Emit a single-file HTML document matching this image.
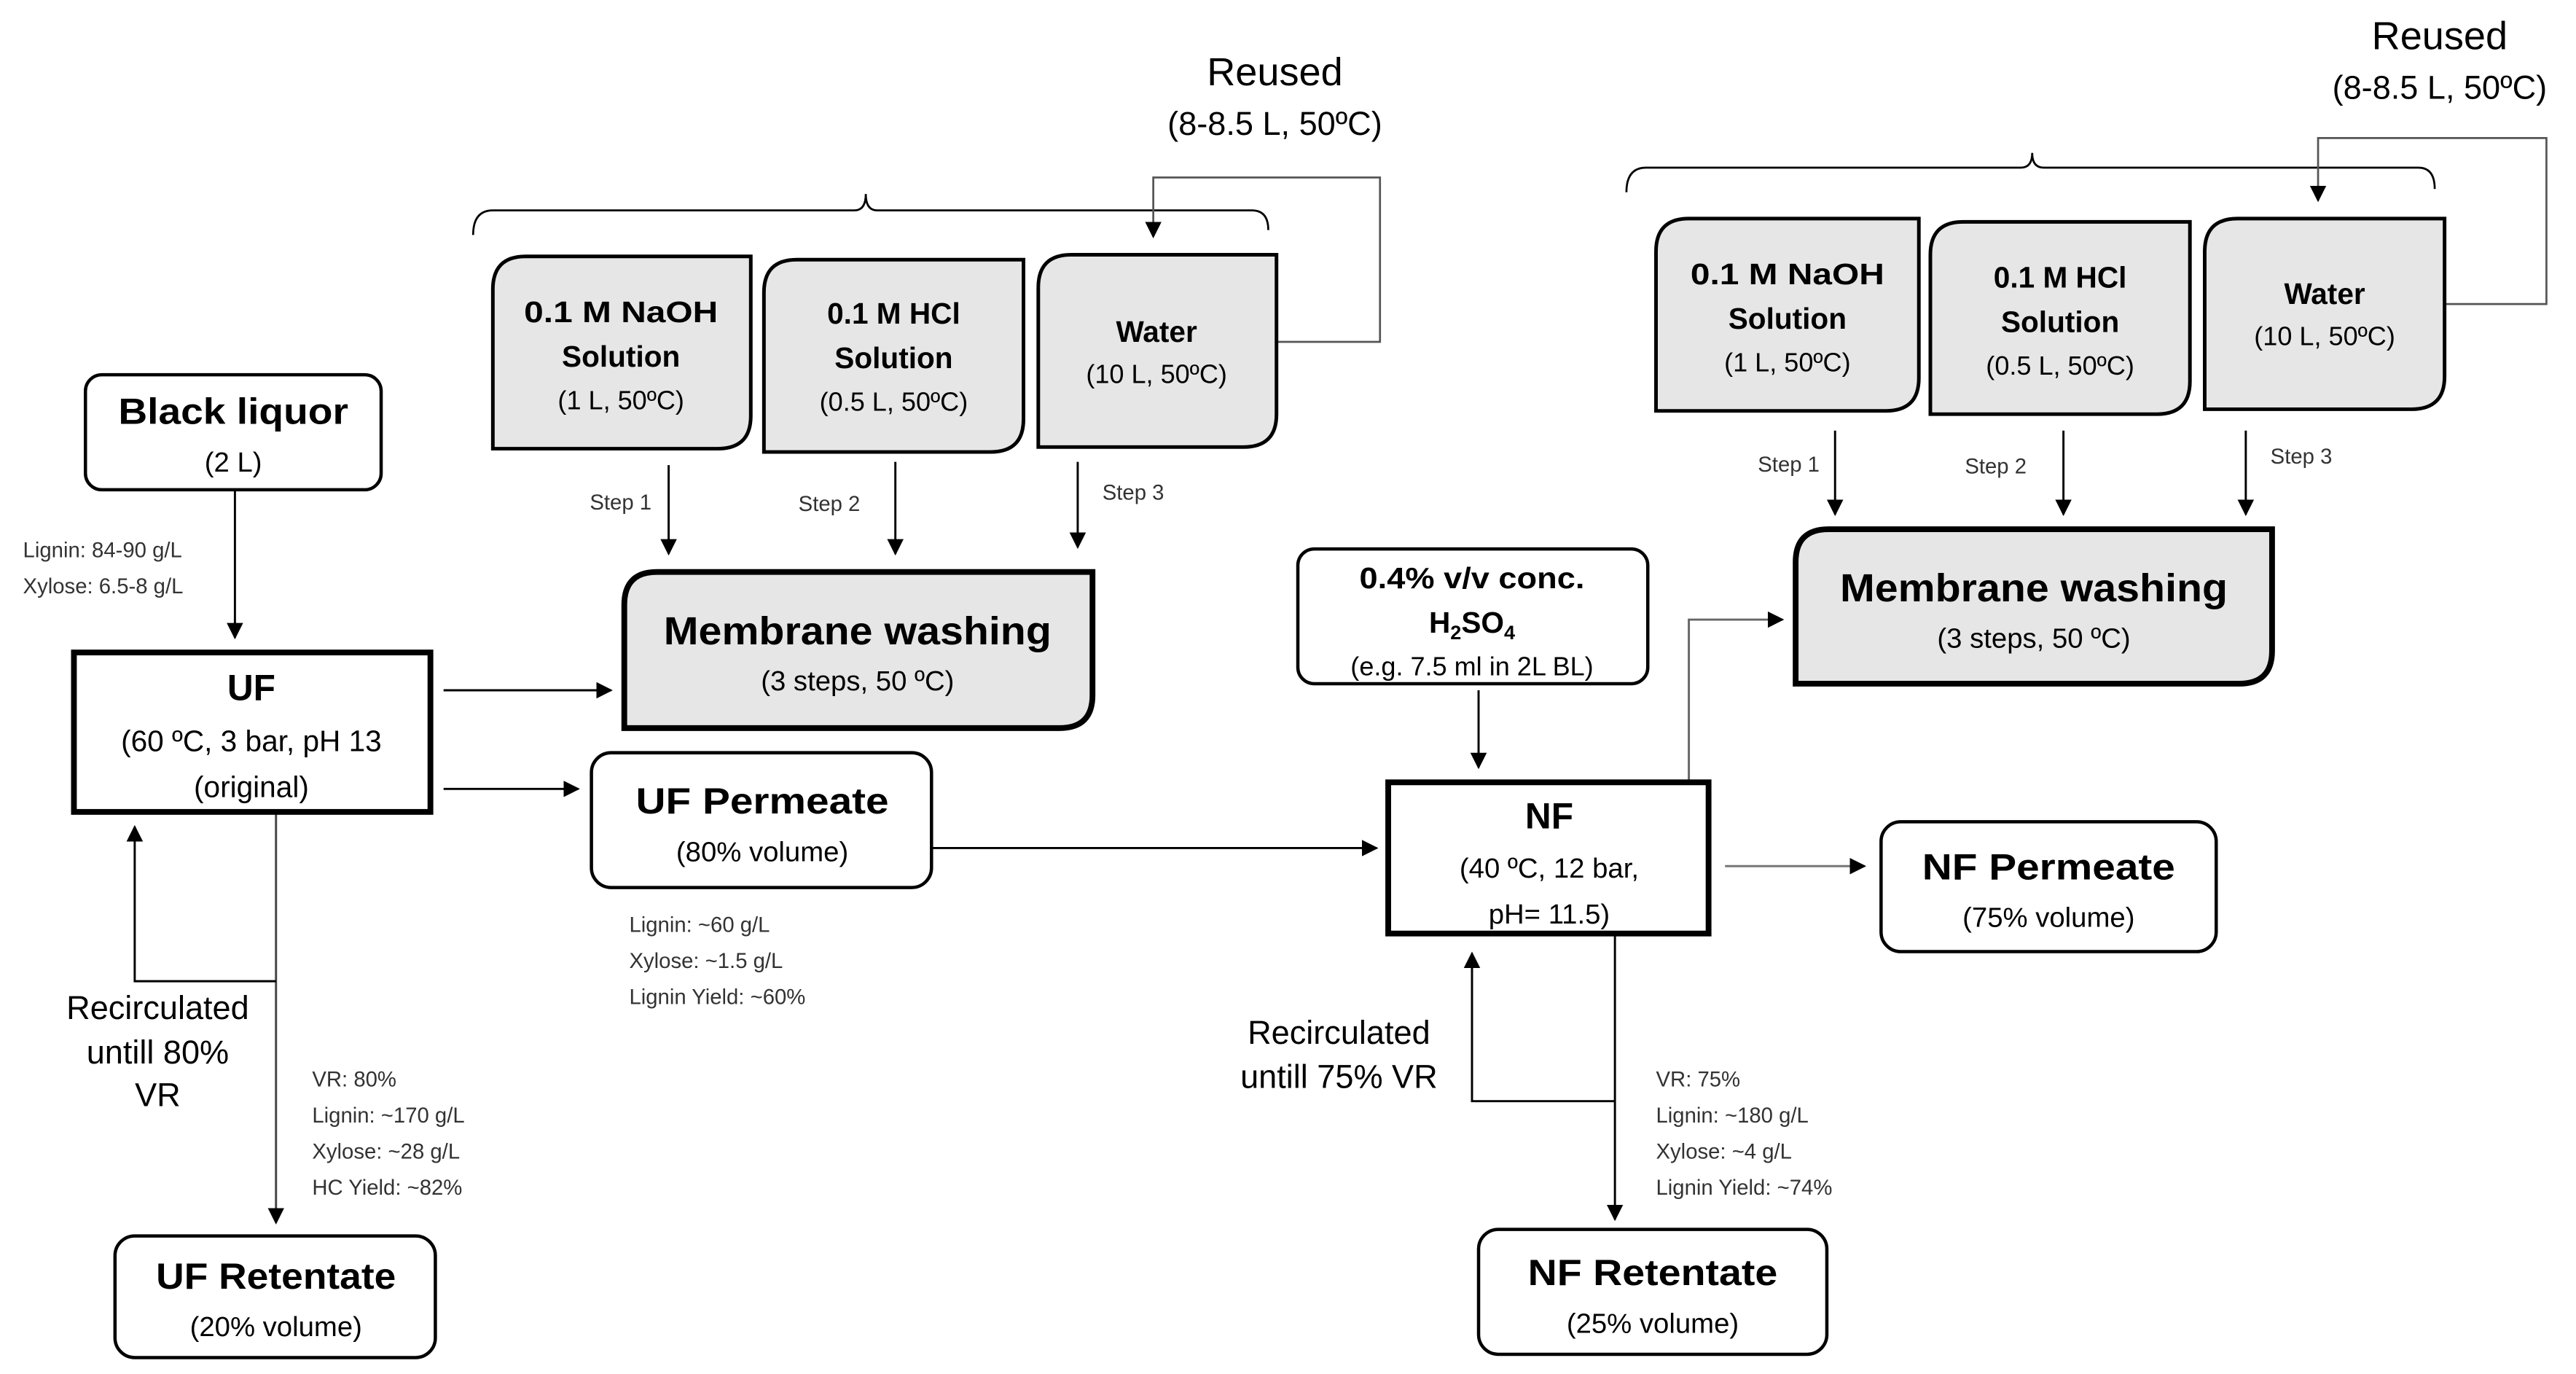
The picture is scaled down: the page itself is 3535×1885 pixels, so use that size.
<!DOCTYPE html>
<html><head><meta charset="utf-8"><style>html,body{margin:0;padding:0;background:#fff}svg{display:block}</style></head>
<body>
<svg width="3535" height="1885" viewBox="0 0 1568 836" preserveAspectRatio="none" xmlns="http://www.w3.org/2000/svg" font-family="Liberation Sans, sans-serif">
<defs>
<marker id="a" markerWidth="10" markerHeight="10" refX="9" refY="5" orient="auto" markerUnits="userSpaceOnUse"><path d="M0,0 L10,5 L0,10 z" fill="#000"/></marker>
</defs>
<g fill="none" stroke="#000" stroke-width="1.2">
<!-- braces -->
<path d="M288,143 Q288,128 300,128 L520,128 Q527,128 527,118 Q527,128 534,128 L762,128 Q772,128 772,140"/>
<path d="M990,117 Q990,102 1002,102 L1230,102 Q1237,102 1237,93 Q1237,102 1244,102 L1472,102 Q1482,102 1482,115"/>
</g>
<g fill="none" stroke="#555" stroke-width="1.2">
<path d="M777,208 H840 V108 H702 V144" marker-end="url(#a)"/>
<path d="M1488,185 H1550 V84 H1411 V122" marker-end="url(#a)"/>
</g>
<g fill="none" stroke="#000" stroke-width="1.3">
<path d="M143,298 V388" marker-end="url(#a)"/>
<path d="M270,420 H372" marker-end="url(#a)"/>
<path d="M270,480 H352" marker-end="url(#a)"/>
<path d="M567,516 H838" marker-end="url(#a)"/>
<path d="M407,283 V337" marker-end="url(#a)"/>
<path d="M545,281 V337" marker-end="url(#a)"/>
<path d="M656,281 V333" marker-end="url(#a)"/>
<path d="M1117,262 V313" marker-end="url(#a)"/>
<path d="M1256,262 V313" marker-end="url(#a)"/>
<path d="M1367,262 V313" marker-end="url(#a)"/>
<path d="M900,420 V467" marker-end="url(#a)"/>
<path d="M168,494 V744" stroke="#444" marker-end="url(#a)"/>
<path d="M168,597 H82 V503" marker-end="url(#a)"/>
<path d="M983,568 V742" marker-end="url(#a)"/>
<path d="M983,670 H896 V580" marker-end="url(#a)"/>
<path d="M1028,476 V377 H1085" stroke="#666" marker-end="url(#a)"/>
<path d="M1050,527 H1135" stroke="#777" marker-end="url(#a)"/>
</g>
<!-- white rounded boxes -->
<g fill="#fff" stroke="#000" stroke-width="2">
<rect x="52" y="228" width="180" height="70" rx="10"/>
<rect x="360" y="458" width="207" height="82" rx="12"/>
<rect x="70" y="752" width="195" height="74" rx="12"/>
<rect x="790" y="334" width="213" height="82" rx="10"/>
<rect x="1145" y="500" width="204" height="79" rx="12"/>
<rect x="900" y="748" width="212" height="76" rx="12"/>
</g>
<g fill="#fff" stroke="#000" stroke-width="3.5">
<rect x="45" y="397" width="217" height="97"/>
<rect x="845" y="476" width="195" height="92"/>
</g>
<!-- gray boxes: rounded TL & BR -->
<g fill="#e6e6e6" stroke="#000" stroke-width="2.2">
<path d="M320,156 H457 V253 Q457,273 437,273 H300 V176 Q300,156 320,156 z"/>
<path d="M485,158 H623 V255 Q623,275 603,275 H465 V178 Q465,158 485,158 z"/>
<path d="M652,155 H777 V252 Q777,272 757,272 H632 V175 Q632,155 652,155 z"/>
<path d="M1028,133 H1168 V230 Q1168,250 1148,250 H1008 V153 Q1008,133 1028,133 z"/>
<path d="M1195,135 H1333 V232 Q1333,252 1313,252 H1175 V155 Q1175,135 1195,135 z"/>
<path d="M1362,133 H1488 V229 Q1488,249 1468,249 H1342 V153 Q1342,133 1362,133 z"/>
</g>
<g fill="#e6e6e6" stroke="#000" stroke-width="3.5">
<path d="M400,348 H665 V423 Q665,443 645,443 H380 V368 Q380,348 400,348 z"/>
<path d="M1113,322 H1383 V396 Q1383,416 1363,416 H1093 V342 Q1093,322 1113,322 z"/>
</g>
<!-- text -->
<g text-anchor="middle" fill="#000">
<g font-weight="bold">
<text x="142" y="258" font-size="22" textLength="140" lengthAdjust="spacingAndGlyphs">Black liquor</text>
<text x="153" y="426" font-size="22">UF</text>
<text x="464" y="495" font-size="22" textLength="154" lengthAdjust="spacingAndGlyphs">UF Permeate</text>
<text x="168" y="784" font-size="22" textLength="146" lengthAdjust="spacingAndGlyphs">UF Retentate</text>
<text x="522" y="392" font-size="24" textLength="236" lengthAdjust="spacingAndGlyphs">Membrane washing</text>
<text x="1238" y="366" font-size="24" textLength="236" lengthAdjust="spacingAndGlyphs">Membrane washing</text>
<text x="943" y="504" font-size="22">NF</text>
<text x="1247" y="535" font-size="22" textLength="154" lengthAdjust="spacingAndGlyphs">NF Permeate</text>
<text x="1006" y="782" font-size="22" textLength="152" lengthAdjust="spacingAndGlyphs">NF Retentate</text>
<text x="896" y="358" font-size="18" textLength="137" lengthAdjust="spacingAndGlyphs">0.4% v/v conc.</text>
<text x="896" y="385" font-size="18">H<tspan font-size="12" dy="4">2</tspan><tspan dy="-4">SO</tspan><tspan font-size="12" dy="4">4</tspan></text>
<text x="378" y="196" font-size="18" textLength="118" lengthAdjust="spacingAndGlyphs">0.1 M NaOH</text>
<text x="378" y="223" font-size="18">Solution</text>
<text x="544" y="197" font-size="18">0.1 M HCl</text>
<text x="544" y="224" font-size="18">Solution</text>
<text x="704" y="208" font-size="18">Water</text>
<text x="1088" y="173" font-size="18" textLength="118" lengthAdjust="spacingAndGlyphs">0.1 M NaOH</text>
<text x="1088" y="200" font-size="18">Solution</text>
<text x="1254" y="175" font-size="18">0.1 M HCl</text>
<text x="1254" y="202" font-size="18">Solution</text>
<text x="1415" y="185" font-size="18">Water</text>
</g>
<g font-size="17">
<text x="142" y="287">(2 L)</text>
<text x="153" y="457" font-size="18">(60 ºC, 3 bar,  pH 13</text>
<text x="153" y="485" font-size="18">(original)</text>
<text x="464" y="524">(80% volume)</text>
<text x="168" y="813">(20% volume)</text>
<text x="522" y="420">(3 steps, 50 ºC)</text>
<text x="1238" y="394">(3 steps, 50 ºC)</text>
<text x="943" y="534">(40 ºC, 12 bar,</text>
<text x="943" y="562">pH= 11.5)</text>
<text x="1247" y="564">(75% volume)</text>
<text x="1006" y="811">(25% volume)</text>
<text x="896" y="411" font-size="16">(e.g. 7.5 ml in 2L BL)</text>
<text x="378" y="249" font-size="16">(1 L, 50ºC)</text>
<text x="544" y="250" font-size="16">(0.5 L, 50ºC)</text>
<text x="704" y="233" font-size="16">(10 L, 50ºC)</text>
<text x="1088" y="226" font-size="16">(1 L, 50ºC)</text>
<text x="1254" y="228" font-size="16">(0.5 L, 50ºC)</text>
<text x="1415" y="210" font-size="16">(10 L, 50ºC)</text>
</g>
<g font-size="20">
<text x="776" y="52" font-size="24">Reused</text>
<text x="776" y="82">(8-8.5 L, 50ºC)</text>
<text x="1485" y="30" font-size="24">Reused</text>
<text x="1485" y="60">(8-8.5 L, 50ºC)</text>
<text x="96" y="620">Recirculated</text>
<text x="96" y="647">untill 80%</text>
<text x="96" y="673">VR</text>
<text x="815" y="635">Recirculated</text>
<text x="815" y="662">untill 75% VR</text>
</g>
</g>
<g font-size="13" fill="#333">
<text x="14" y="339">Lignin: 84-90 g/L</text>
<text x="14" y="361">Xylose: 6.5-8 g/L</text>
<text x="383" y="567">Lignin: ~60 g/L</text>
<text x="383" y="589">Xylose: ~1.5 g/L</text>
<text x="383" y="611">Lignin Yield: ~60%</text>
<text x="190" y="661">VR: 80%</text>
<text x="190" y="683">Lignin: ~170 g/L</text>
<text x="190" y="705">Xylose: ~28 g/L</text>
<text x="190" y="727">HC Yield: ~82%</text>
<text x="1008" y="661">VR: 75%</text>
<text x="1008" y="683">Lignin: ~180 g/L</text>
<text x="1008" y="705">Xylose: ~4 g/L</text>
<text x="1008" y="727">Lignin Yield: ~74%</text>
<text x="359" y="310">Step 1</text>
<text x="486" y="311">Step 2</text>
<text x="671" y="304">Step 3</text>
<text x="1070" y="287">Step 1</text>
<text x="1196" y="288">Step 2</text>
<text x="1382" y="282">Step 3</text>
</g>
</svg>
</body></html>
